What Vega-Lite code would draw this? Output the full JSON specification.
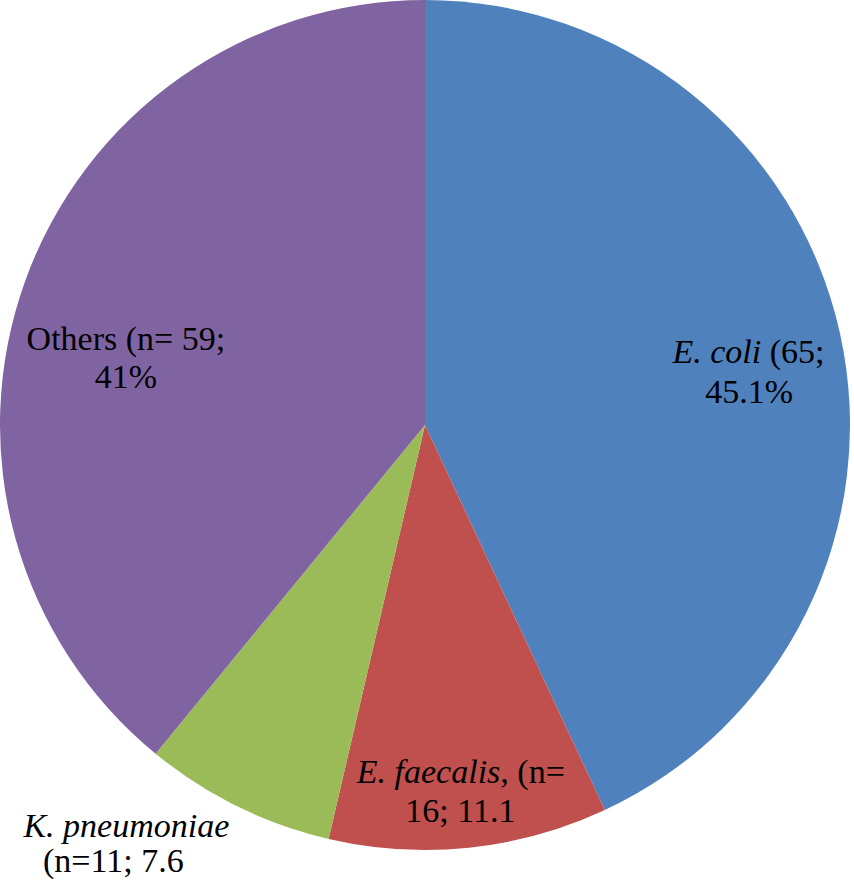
{
  "$schema": "https://vega.github.io/schema/vega-lite/v6.json",
  "autosize": {"type": "none"},
  "width": 850,
  "height": 850,
  "padding": {"left": 0, "top": 0, "right": 4, "bottom": 37},
  "background": "#ffffff",
  "config": {"view": {"stroke": null}, "text": {"font": "Liberation Serif, Times New Roman, Times, serif"}},
  "data": {
    "values": [
      {"organism": "E. coli", "n": 65, "italicName": "E. coli", "line1": "(65;", "line2": "45.1%"},
      {"organism": "E. faecalis", "n": 16, "italicName": "E. faecalis", "line1": ", (n=", "line2": "16; 11.1"},
      {"organism": "K. pneumoniae", "n": 11, "italicName": "K. pneumoniae", "line1": "", "line2": "(n=11; 7.6"},
      {"organism": "Others", "n": 59, "italicName": "", "line1": "Others (n= 59;", "line2": "41%"}
    ]
  },
  "encoding": {
    "theta": {"field": "n", "type": "quantitative", "stack": true},
    "order": {"field": "organism", "type": "ordinal", "sort": "ascending"},
    "color": {
      "field": "organism",
      "type": "nominal",
      "sort": ["E. coli", "E. faecalis", "K. pneumoniae", "Others"],
      "scale": {"domain": ["E. coli", "E. faecalis", "K. pneumoniae", "Others"], "range": ["#4F81BD", "#C0504D", "#9BBB59", "#8064A2"]},
      "legend": null
    }
  },
  "layer": [
    {"mark": {"type": "arc"}},
    {
      "mark": {"type": "text", "radius": 328, "dx": 16, "dy": 9, "align": "right", "baseline": "alphabetic", "font": "Liberation Serif, Times New Roman, Times, serif", "fontSize": 34, "fontStyle": "italic"},
      "encoding": {"fill": {"value": "#000000"}, "text": {"condition": {"test": "datum.organism === 'E. coli'", "field": "italicName", "type": "nominal"}, "value": ""}}
    },
    {
      "mark": {"type": "text", "radius": 328, "dx": 24.5, "dy": 9, "align": "left", "baseline": "alphabetic", "font": "Liberation Serif, Times New Roman, Times, serif", "fontSize": 34},
      "encoding": {"fill": {"value": "#000000"}, "text": {"condition": {"test": "datum.organism === 'E. coli'", "field": "line1", "type": "nominal"}, "value": ""}}
    },
    {
      "mark": {"type": "text", "radius": 328, "dx": 4, "dy": 49, "align": "center", "baseline": "alphabetic", "font": "Liberation Serif, Times New Roman, Times, serif", "fontSize": 34},
      "encoding": {"fill": {"value": "#000000"}, "text": {"condition": {"test": "datum.organism === 'E. coli'", "field": "line2", "type": "nominal"}, "value": ""}}
    },
    {
      "mark": {"type": "text", "radius": 369, "dx": 37, "dy": -9, "align": "right", "baseline": "alphabetic", "font": "Liberation Serif, Times New Roman, Times, serif", "fontSize": 34, "fontStyle": "italic"},
      "encoding": {"fill": {"value": "#000000"}, "text": {"condition": {"test": "datum.organism === 'E. faecalis'", "field": "italicName", "type": "nominal"}, "value": ""}}
    },
    {
      "mark": {"type": "text", "radius": 369, "dx": 37, "dy": -9, "align": "left", "baseline": "alphabetic", "font": "Liberation Serif, Times New Roman, Times, serif", "fontSize": 34},
      "encoding": {"fill": {"value": "#000000"}, "text": {"condition": {"test": "datum.organism === 'E. faecalis'", "field": "line1", "type": "nominal"}, "value": ""}}
    },
    {
      "mark": {"type": "text", "radius": 369, "dx": -3, "dy": 30, "align": "center", "baseline": "alphabetic", "font": "Liberation Serif, Times New Roman, Times, serif", "fontSize": 34},
      "encoding": {"fill": {"value": "#000000"}, "text": {"condition": {"test": "datum.organism === 'E. faecalis'", "field": "line2", "type": "nominal"}, "value": ""}}
    },
    {
      "mark": {"type": "text", "radius": 470, "dx": -91, "dy": -10, "align": "center", "baseline": "alphabetic", "font": "Liberation Serif, Times New Roman, Times, serif", "fontSize": 34, "fontStyle": "italic"},
      "encoding": {"fill": {"value": "#000000"}, "text": {"condition": {"test": "datum.organism === 'K. pneumoniae'", "field": "italicName", "type": "nominal"}, "value": ""}}
    },
    {
      "mark": {"type": "text", "radius": 470, "dx": -104, "dy": 25, "align": "center", "baseline": "alphabetic", "font": "Liberation Serif, Times New Roman, Times, serif", "fontSize": 34},
      "encoding": {"fill": {"value": "#000000"}, "text": {"condition": {"test": "datum.organism === 'K. pneumoniae'", "field": "line2", "type": "nominal"}, "value": ""}}
    },
    {
      "mark": {"type": "text", "radius": 307, "dx": -10, "dy": 28, "align": "center", "baseline": "alphabetic", "font": "Liberation Serif, Times New Roman, Times, serif", "fontSize": 34},
      "encoding": {"fill": {"value": "#000000"}, "text": {"condition": {"test": "datum.organism === 'Others'", "field": "line1", "type": "nominal"}, "value": ""}}
    },
    {
      "mark": {"type": "text", "radius": 307, "dx": -10, "dy": 66, "align": "center", "baseline": "alphabetic", "font": "Liberation Serif, Times New Roman, Times, serif", "fontSize": 34},
      "encoding": {"fill": {"value": "#000000"}, "text": {"condition": {"test": "datum.organism === 'Others'", "field": "line2", "type": "nominal"}, "value": ""}}
    }
  ]
}
